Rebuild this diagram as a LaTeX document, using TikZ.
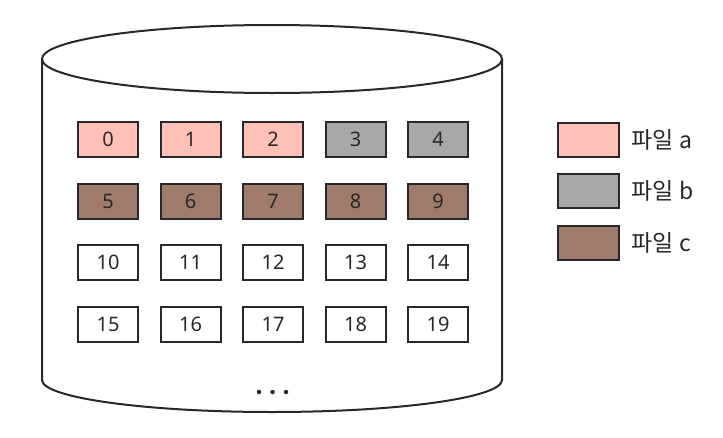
\documentclass[tikz,border=0pt]{standalone}
\usepackage{fontspec}
\setmainfont{Noto Sans}
\newfontfamily\krfont{Noto Sans CJK KR}
\definecolor{fpink}{RGB}{255,192,184}
\definecolor{fgray}{RGB}{168,168,168}
\definecolor{fbrown}{RGB}{160,123,108}
\definecolor{ink}{RGB}{40,40,40}
\begin{document}
\begin{tikzpicture}[x=1pt,y=-1pt,
  blk/.style={draw=ink,line width=2pt,minimum width=60pt,minimum height=35pt,inner sep=0pt,font=\fontsize{20}{20}\selectfont,text=ink},
  leg/.style={draw=ink,line width=2pt,minimum width=61pt,minimum height=34pt,inner sep=0pt},
  legtxt/.style={anchor=west,font=\krfont\fontsize{23}{23}\selectfont,text=ink},
  dot/.style={circle,fill=ink,inner sep=0pt,minimum size=4.5pt}]
\useasboundingbox (0,0) rectangle (723,437);
% cylinder
\draw[ink,line width=2pt,fill=white] (42,59) -- (42,380) arc[start angle=180,end angle=360,x radius=230,y radius=-32] -- (502,59);
\draw[ink,line width=2pt] (272,59) ellipse[x radius=230,y radius=34];
% blocks
\foreach \i/\c in {0/fpink,1/fpink,2/fpink,3/fgray,4/fgray,5/fbrown,6/fbrown,7/fbrown,8/fbrown,9/fbrown,10/white,11/white,12/white,13/white,14/white,15/white,16/white,17/white,18/white,19/white}{
  \pgfmathtruncatemacro{\col}{mod(\i,5)}
  \pgfmathtruncatemacro{\row}{int(\i/5)}
  \node[blk,fill=\c] (b\i) at (108+82.5*\col,139.5+61.5*\row) {\i};
}
\node[dot] (d1) at (259,392) {};
\node[dot] (d2) at (272.5,392) {};
\node[dot] (d3) at (286,392) {};
% legend
\node[leg,fill=fpink] (la) at (588.5,139.5) {};
\node[leg,fill=fgray] (lb) at (588.5,191) {};
\node[leg,fill=fbrown] (lc) at (588.5,242.5) {};
\node[legtxt] (ta) at (628,139.5) {파일 a};
\node[legtxt] (tb) at (628,191) {파일 b};
\node[legtxt] (tc) at (628,242.5) {파일 c};
\end{tikzpicture}
\end{document}
